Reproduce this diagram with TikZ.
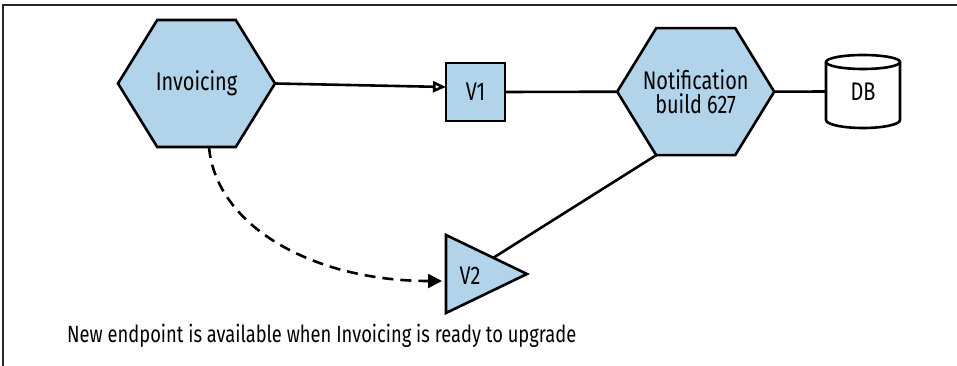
\documentclass[tikz,border=0pt]{standalone}
\usepackage{fontspec}
\setmainfont{Fira Sans}[FakeStretch=0.78]
\usetikzlibrary{arrows.meta,calc}
\pgfdeclarelayer{background}
\pgfsetlayers{background,main}
\definecolor{nodeblue}{RGB}{178,212,235}
\begin{document}
\begin{tikzpicture}[x=1pt,y=-1pt,
  shapeline/.style={draw=black,line width=2.6pt},
  hexbox/.style={minimum width=157pt,minimum height=127pt,inner sep=0pt,outer sep=0pt,align=center,
     font=\fontsize{25.5}{23.6}\selectfont},
  hexshape/.style={shapeline,fill=nodeblue},
  vbox/.style={shapeline,fill=nodeblue,minimum width=59pt,minimum height=58pt,inner sep=0pt,outer sep=0pt,
     font=\fontsize{25.5}{23.6}\selectfont},
  dbbox/.style={minimum width=74pt,minimum height=73pt,inner sep=0pt,outer sep=0pt,
     font=\fontsize{25.5}{23.6}\selectfont},
  trilabel/.style={inner sep=0pt,font=\fontsize{25.5}{23.6}\selectfont},
  conn/.style={draw=black,line width=2.6pt},
  dashconn/.style={conn,dash pattern=on 11pt off 7pt},
  notetext/.style={inner sep=0pt,font=\fontsize{23.5}{26}\selectfont},
  frameline/.style={draw=black!85,line width=1.3pt}
]
\useasboundingbox (0,0) rectangle (957,366);
\draw[frameline] (3,366) -- (3,5) -- (957,5);

\node[hexbox] (inv) at (196.5,83.5) {Invoicing};
\node[hexbox] (notif) at (695.7,91.7) {Notification\\build 627};
\node[vbox] (v1) at (475.5,92) {V1};
\node[dbbox] (db) at (863,91.5) {DB};
\node[trilabel] (v2) at (470,276) {V2};
\coordinate (v2in) at (493,258);
\coordinate (v2arr) at (442,281);

\begin{pgfonlayer}{background}
\draw[hexshape] (inv.west) -- ([xshift=39.25pt]inv.north west) -- ([xshift=-39.25pt]inv.north east)
  -- (inv.east) -- ([xshift=-39.25pt]inv.south east) -- ([xshift=39.25pt]inv.south west) -- cycle;
\draw[hexshape] (notif.west) -- ([xshift=39pt]notif.north west) -- ([xshift=-39pt]notif.north east)
  -- (notif.east) -- ([xshift=-39pt]notif.south east) -- ([xshift=39pt]notif.south west) -- cycle;
\draw[hexshape] (446,235) -- (527,274) -- (446,313) -- cycle;
\draw[shapeline,fill=white] ([yshift=-7pt]db.north west) -- ([yshift=8pt]db.south west)
  arc[start angle=180,end angle=360,x radius=37pt,y radius=8pt] -- ([yshift=-7pt]db.north east);
\draw[shapeline,fill=white] ([yshift=-7pt]db.north) ellipse[x radius=37pt,y radius=7pt];
\end{pgfonlayer}

\draw[conn,-{Triangle[open,length=13pt,width=11pt]}] (inv.east) -- ([yshift=5pt]v1.west);
\draw[conn] (v1.east) -- (notif.west);
\draw[conn] (notif.east) -- (db.west);
\draw[conn] ([xshift=39pt]notif.south west) -- (v2in);
\draw[dashconn,-{Triangle[length=14pt,width=14pt]}] ([xshift=12.5pt]inv.south)
  .. controls (216,226) and (313,281) .. (v2arr);

\node[notetext,anchor=base west] (note) at (67,342) {New endpoint is available when Invoicing is ready to upgrade};
\end{tikzpicture}
\end{document}
